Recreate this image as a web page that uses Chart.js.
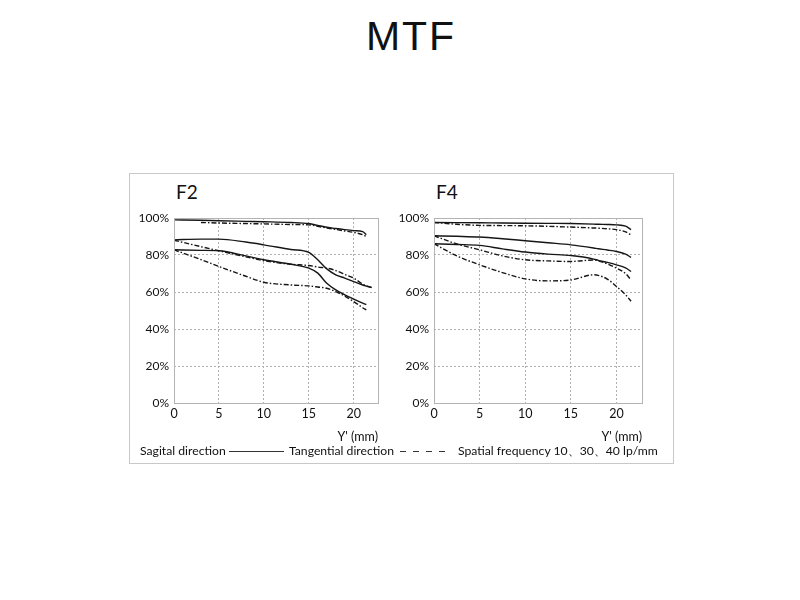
<!DOCTYPE html>
<html>
<head>
<meta charset="utf-8">
<script src="https://cdn.jsdelivr.net/npm/chart.js@4.4.0/dist/chart.umd.min.js"></script>
<style>
  body { margin: 0; background: #fff; width: 800px; height: 600px; position: relative; overflow: hidden; font-family: Lato, "Open Sans", sans-serif; color: #111; }
  #titulo { position: absolute; left: 310px; width: 200px; top: 13px; padding-left: 2px; box-sizing: border-box; text-align: center; font-family: "Liberation Sans", Arial, sans-serif; font-size: 41px; letter-spacing: 2px; color: #111; }
  #marco { position: absolute; left: 129px; top: 173px; width: 543px; height: 289px; border: 1px solid #c8c8c8; }
  canvas { position: absolute; }
  .etiqueta { position: absolute; font-size: 19px; color: #111; }
  .ley { position: absolute; top: 443px; font-size: 12.2px; white-space: nowrap; color: #111; }
  .linea { position: absolute; top: 451px; height: 1px; }
</style>
</head>
<body>
<div id="titulo">MTF</div>
<div id="marco"></div>
<div class="etiqueta" style="left:176px; top:180px;">F2</div>
<div class="etiqueta" style="left:436px; top:180px;">F4</div>
<canvas id="graficaF2" width="252" height="240" style="left:130px; top:205px;"></canvas>
<canvas id="graficaF4" width="256" height="240" style="left:390px; top:205px;"></canvas>
<div class="ley" style="left:140px;">Sagital direction</div>
<div class="linea" style="left:229px; width:55px; background:#333;"></div>
<div class="ley" style="left:289px;">Tangential direction</div>
<div class="linea" style="left:400px; width:46px; background:repeating-linear-gradient(to right, #333 0 6px, transparent 6px 13px);"></div>
<div class="ley" style="left:458px;">Spatial frequency 10、30、40 lp/mm</div>

<script>
// eje horizontal Y' (mm) de cada grafica
const xF2 = [0, 3, 5, 8, 10, 13, 15, 16, 17, 18, 19, 20, 21, 21.4, 22];
const xF4 = [0, 2.5, 5, 7.5, 10, 12.5, 15, 17.5, 18, 19, 20, 21, 21.6];

// F2 (sagital = continua, tangencial = discontinua)
const f2Sag10 = [99, 98.8, 98.5, 98.2, 98, 97.6, 97, 96, 95, 94.3, 93.7, 93.2, 92.6, 91, null];
const f2Tan10 = [null, 97.6, 97.3, 97, 96.8, 96.5, 96.3, 95.5, 94.6, 93.8, 93, 92.2, 91, 90, null];
const f2Sag30 = [88.2, 88.6, 88.6, 87, 85.5, 83, 81.4, 77.4, 72.5, 69.3, 67.5, 65.6, 63.8, 63.2, 62.4];
const f2Tan30 = [88, 84.5, 82.3, 79, 76.9, 75, 74.3, 73.5, 72.9, 71.6, 69.5, 67.5, 64.2, 63.4, 62.4];
const f2Sag40 = [82.8, 82.5, 82.3, 79.5, 77.4, 75, 72.9, 70.2, 64.7, 61.1, 58.5, 56.2, 54, 53.2, null];
const f2Tan40 = [82.8, 77.5, 73.8, 68.5, 65.3, 63.8, 63.3, 62.7, 62, 60.2, 57.8, 54.8, 51.5, 50.3, null];

// F4
const f4Sag10 = [97.6, 97.5, 97.4, 97.3, 97.2, 97.1, 97, 96.7, 96.6, 96.5, 96.3, 95.6, 93.7];
const f4Tan10 = [97.6, 96.6, 96, 95.9, 95.8, 95.5, 95.1, 94.6, 94.5, 94.2, 93.7, 92.5, 90.9];
const f4Sag30 = [90.4, 90.1, 89.7, 88.8, 87.7, 86.6, 85.5, 83.8, 83.4, 82.7, 81.9, 80.5, 78.7];
const f4Tan30 = [90.4, 86, 82.8, 79.5, 77.4, 76.8, 76.5, 77.3, 76.9, 75.2, 72.9, 70, 66.5];
const f4Sag40 = [86.1, 85.7, 85.2, 83.3, 81.6, 80.5, 79.7, 77.8, 77.1, 76, 74.7, 73, 71.1];
const f4Tan40 = [86.1, 79.5, 74.7, 70.5, 67.1, 66, 66.5, 69.3, 69, 67, 63, 58.5, 55];

const ticksY = [0, 20, 40, 60, 80, 100];
const ticksX = [0, 5, 10, 15, 20];

const fuente = 'Lato, "Open Sans", sans-serif';

function puntos(xs, ys) {
  const res = [];
  for (let i = 0; i < xs.length; i++) {
    if (ys[i] !== null) res.push({ x: xs[i], y: ys[i] });
  }
  return res;
}

function serie(xs, ys, discontinua) {
  return {
    data: puntos(xs, ys),
    borderColor: '#161616',
    borderWidth: 1.4,
    borderDash: discontinua ? [5, 2, 1.5, 2] : [],
    pointRadius: 0,
    fill: false,
    cubicInterpolationMode: 'monotone'
  };
}

// marco gris alrededor del area de trazado
const marcoPlugin = {
  id: 'marcoArea',
  afterDraw(chart) {
    const a = chart.chartArea;
    const ctx = chart.ctx;
    ctx.save();
    ctx.strokeStyle = '#b4b4b4';
    ctx.lineWidth = 1;
    ctx.strokeRect(a.left + 0.5, a.top + 0.5, a.right - a.left, a.bottom - a.top);
    ctx.restore();
  }
};

function crearGrafica(id, xs, series, maxX) {
  const ctx = document.getElementById(id).getContext('2d');
  return new Chart(ctx, {
    type: 'line',
    data: { datasets: series },
    plugins: [marcoPlugin],
    options: {
      responsive: false,
      animation: false,
      layout: { padding: { top: 13, right: 4, left: 0, bottom: 0 } },
      plugins: { legend: { display: false }, tooltip: { enabled: false } },
      scales: {
        x: {
          type: 'linear',
          min: 0,
          max: maxX,
          afterFit(scale) { scale.height = 42; },
          afterBuildTicks(scale) { scale.ticks = ticksX.map(v => ({ value: v })); },
          grid: {
            drawTicks: false,
            color: c => (c.tick && c.tick.value > 0 ? '#b0b0b0' : 'rgba(0,0,0,0)'),
            lineWidth: 1
          },
          border: { display: false, dash: [2, 2] },
          ticks: { color: '#111', padding: 3, font: { family: fuente, size: 12.5 }, maxRotation: 0 },
          title: {
            display: true,
            text: "Y' (mm)",
            align: 'end',
            color: '#111',
            font: { family: fuente, size: 12.5 },
            padding: { top: 0, bottom: 1 }
          }
        },
        y: {
          min: 0,
          max: 100,
          afterFit(scale) { scale.width = 44; },
          afterBuildTicks(scale) { scale.ticks = ticksY.map(v => ({ value: v })); },
          grid: {
            drawTicks: false,
            color: c => (c.tick && c.tick.value > 0 && c.tick.value < 100 ? '#b0b0b0' : 'rgba(0,0,0,0)'),
            lineWidth: 1
          },
          border: { display: false, dash: [2, 2] },
          ticks: {
            color: '#111',
            padding: 5,
            font: { family: fuente, size: 12 },
            callback: v => v + '%'
          }
        }
      }
    }
  });
}

crearGrafica('graficaF2', xF2, [
  serie(xF2, f2Sag10, false), serie(xF2, f2Tan10, true),
  serie(xF2, f2Sag30, false), serie(xF2, f2Tan30, true),
  serie(xF2, f2Sag40, false), serie(xF2, f2Tan40, true)
], 22.7);

crearGrafica('graficaF4', xF4, [
  serie(xF4, f4Sag10, false), serie(xF4, f4Tan10, true),
  serie(xF4, f4Sag30, false), serie(xF4, f4Tan30, true),
  serie(xF4, f4Sag40, false), serie(xF4, f4Tan40, true)
], 22.8);
</script>
</body>
</html>
